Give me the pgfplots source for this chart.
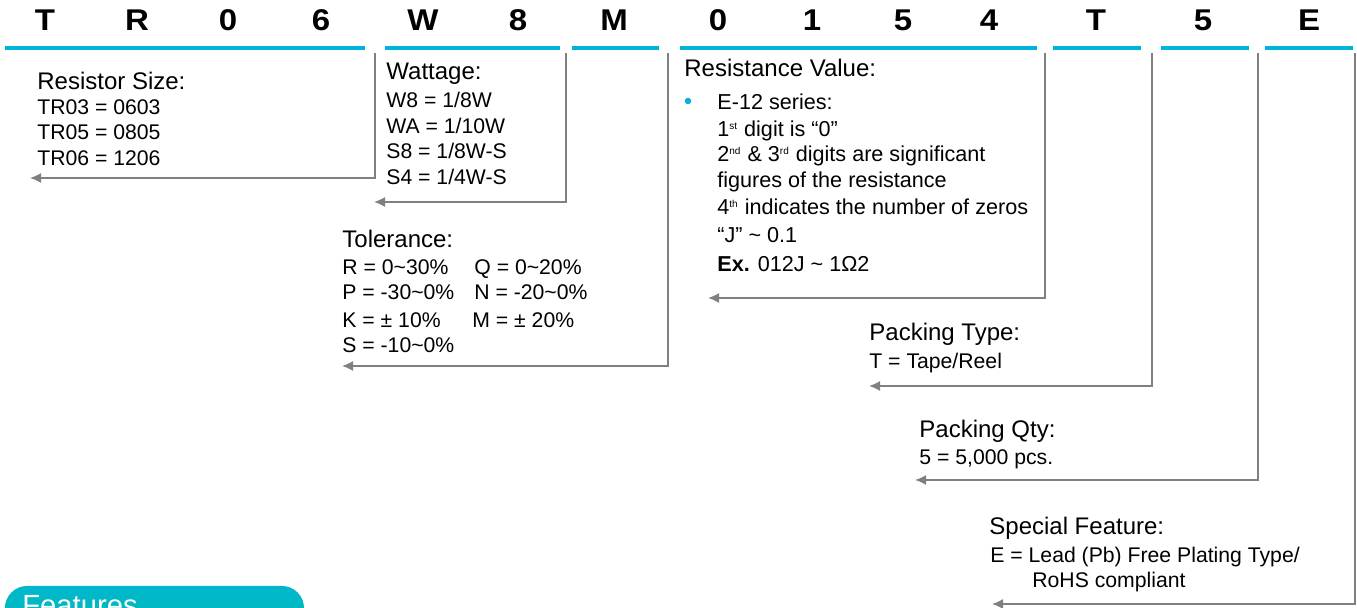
\documentclass[border=0pt]{standalone}
\usepackage{pgfplots}
\pgfplotsset{compat=1.18}
\usetikzlibrary{arrows.meta}
\usepackage{fontspec}
\setmainfont{Liberation Sans}
\newfontfamily\codefont[FakeStretch=1.1]{Liberation Sans}

\definecolor{cyanline}{RGB}{0,178,220}
\definecolor{grayline}{RGB}{128,128,128}
\definecolor{feattop}{RGB}{0,183,206}
\definecolor{featbot}{RGB}{0,187,172}

% font sizes (1 px of the reference = 0.5pt)
\newcommand{\codesz}{\codefont\bfseries\fontsize{15}{16}\selectfont}
\newcommand{\ttl}{\fontsize{12}{14}\selectfont}
\newcommand{\itm}{\fontsize{10.6}{12}\selectfont}
\newcommand{\itmr}{\fontsize{10.8}{12}\selectfont}

\pgfplotsset{
  seg/.style={cyanline, line width=1.6pt, no markers},
  conn/.style={grayline, line width=0.8pt, no markers, -{Latex[length=5.5pt,width=5pt]}},
}
\tikzset{every node/.append style={inner sep=0pt}}

\begin{document}
\begin{tikzpicture}
\begin{axis}[scale only axis, width=678.5pt, height=304pt,
  xmin=0, xmax=1357, ymin=0, ymax=608, y dir=reverse,
  hide axis, clip=true]
\coordinate (sw) at (axis cs:0,608);
\coordinate (ne) at (axis cs:1357,0);

% cyan underlines
\addplot[seg] coordinates {(5,48) (365,48)};
\addplot[seg] coordinates {(385,48) (560,48)};
\addplot[seg] coordinates {(572,48) (659,48)};
\addplot[seg] coordinates {(680,48) (1037,48)};
\addplot[seg] coordinates {(1053,48) (1141,48)};
\addplot[seg] coordinates {(1161,48) (1249,48)};
\addplot[seg] coordinates {(1265,48) (1353,48)};

% gray connectors
\addplot[conn] coordinates {(375,53) (375,178) (30,178)};
\addplot[conn] coordinates {(566,53) (566,202) (374,202)};
\addplot[conn] coordinates {(668,53) (668,366) (342,366)};
\addplot[conn] coordinates {(1045,53) (1045,298) (708,298)};
\addplot[conn] coordinates {(1152,53) (1152,386) (869,386)};
\addplot[conn] coordinates {(1258,53) (1258,480) (915,480)};
\addplot[conn] coordinates {(1355,53) (1355,604) (992,604)};

% bullet
\addplot[only marks, mark=*, mark size=1.4pt, cyanline] coordinates {(688,101)};

% Features tab (cut by the lower edge)
\addplot[draw=none, top color=feattop, bottom color=featbot, rounded corners=11pt]
  coordinates {(5,640) (5,586) (304,586) (304,640)} --cycle;

% code letters
\foreach \x/\c in {45/T,137/R,228/0,321/6,423/W,518/8,614/M,718/0,812/1,903/5,989/4,1096/T,1203/5,1309/E}{
  \edef\tmp{\noexpand\node[anchor=base, font=\noexpand\codesz] at (axis cs:\x,31) {\c};}\tmp
}

% Resistor size
\node[anchor=base west, font=\ttl] at (axis cs:37,90) {Resistor Size:};
\node[anchor=base west, font=\itm] at (axis cs:37,115) {TR03 = 0603};
\node[anchor=base west, font=\itm] at (axis cs:37,140) {TR05 = 0805};
\node[anchor=base west, font=\itm] at (axis cs:37,166) {TR06 = 1206};

% Wattage
\node[anchor=base west, font=\ttl] at (axis cs:386,80) {Wattage:};
\node[anchor=base west, font=\itm] at (axis cs:386,108) {W8 = 1/8W};
\node[anchor=base west, font=\itm] at (axis cs:386,134) {WA = 1/10W};
\node[anchor=base west, font=\itm] at (axis cs:386,159) {S8 = 1/8W-S};
\node[anchor=base west, font=\itm] at (axis cs:386,185) {S4 = 1/4W-S};

% Resistance value
\node[anchor=base west, font=\ttl] at (axis cs:684,77) {Resistance Value:};
\node[anchor=base west, font=\itmr] at (axis cs:717,110) {E-12 series:};
\node[anchor=base west, font=\itmr] at (axis cs:717,137) {1\textsuperscript{\tiny st} digit is “0”};
\node[anchor=base west, font=\itmr] at (axis cs:717,162) {2\textsuperscript{\tiny nd} \& 3\textsuperscript{\tiny rd} digits are significant};
\node[anchor=base west, font=\itmr] at (axis cs:717,188) {figures of the resistance};
\node[anchor=base west, font=\itmr] at (axis cs:717,215) {4\textsuperscript{\tiny th} indicates the number of zeros};
\node[anchor=base west, font=\itmr] at (axis cs:717,243) {“J” \textasciitilde{} 0.1};
\node[anchor=base west, font=\itmr] at (axis cs:717,272) {\textbf{Ex.} 012J \textasciitilde{} 1Ω2};

% Tolerance
\node[anchor=base west, font=\ttl] at (axis cs:342,248) {Tolerance:};
\node[anchor=base west, font=\itm] at (axis cs:342,275) {R = 0\textasciitilde 30\%};
\node[anchor=base west, font=\itm] at (axis cs:474,275) {Q = 0\textasciitilde 20\%};
\node[anchor=base west, font=\itm] at (axis cs:342,300) {P = -30\textasciitilde 0\%};
\node[anchor=base west, font=\itm] at (axis cs:474,300) {N = -20\textasciitilde 0\%};
\node[anchor=base west, font=\itm] at (axis cs:342,328) {K = ± 10\%};
\node[anchor=base west, font=\itm] at (axis cs:472,328) {M = ± 20\%};
\node[anchor=base west, font=\itm] at (axis cs:342,353) {S = -10\textasciitilde 0\%};

% Packing type
\node[anchor=base west, font=\ttl] at (axis cs:869,341) {Packing Type:};
\node[anchor=base west, font=\itm] at (axis cs:869,369) {T = Tape/Reel};

% Packing qty
\node[anchor=base west, font=\ttl] at (axis cs:919,438) {Packing Qty:};
\node[anchor=base west, font=\itm] at (axis cs:919,465) {5 = 5,000 pcs.};

% Special feature
\node[anchor=base west, font=\ttl] at (axis cs:989,535) {Special Feature:};
\node[anchor=base west, font=\itm] at (axis cs:990,563) {E = Lead (Pb) Free Plating Type/};
\node[anchor=base west, font=\itm] at (axis cs:1032,588) {RoHS compliant};

% Features label
\node[anchor=base west, text=white, font=\fontsize{14.6}{16}\selectfont] at (axis cs:22,616) {Features};
\end{axis}
\pgfresetboundingbox
\useasboundingbox (sw) rectangle (ne);
\end{tikzpicture}
\end{document}
